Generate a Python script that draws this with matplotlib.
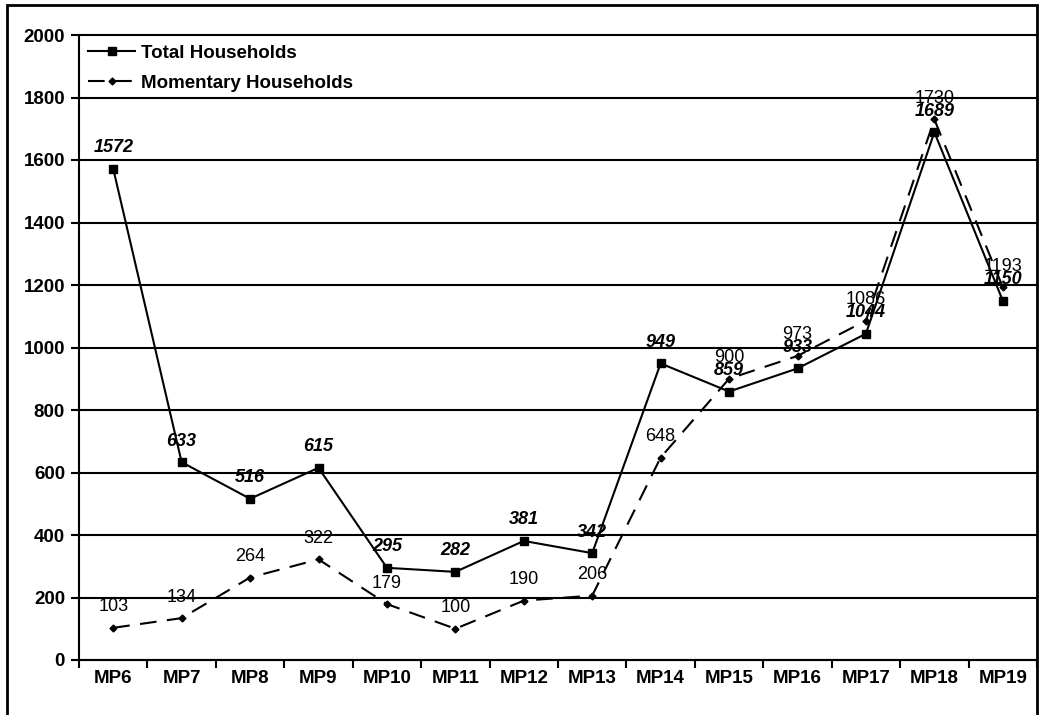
import matplotlib
matplotlib.use('Agg')
import matplotlib.pyplot as plt
from matplotlib.patches import Rectangle
import numpy as np

plt.rcParams['font.family'] = ['Liberation Sans', 'DejaVu Sans']

categories = ['MP6', 'MP7', 'MP8', 'MP9', 'MP10', 'MP11', 'MP12', 'MP13',
              'MP14', 'MP15', 'MP16', 'MP17', 'MP18', 'MP19']
total = [1572, 633, 516, 615, 295, 282, 381, 342, 949, 859, 933, 1044, 1689, 1150]
momentary = [103, 134, 264, 322, 179, 100, 190, 206, 648, 900, 973, 1086, 1730, 1193]

W, H = 1041, 715
fig = plt.figure(figsize=(W / 100, H / 100), dpi=100)
ax = fig.add_axes([79 / W, 1 - 660 / H, (1037 - 79) / W, (660 - 35) / H])

x = np.arange(len(categories))

ax.plot(x, total, color='black', linewidth=1.5, marker='s', markersize=6,
        label='Total Households', zorder=3)
ax.plot(x, momentary, color='black', linewidth=1.5, linestyle=(0, (8, 5)),
        marker='D', markersize=3.5, label='Momentary Households', zorder=3)

for a, b in zip(x, total):
    ax.annotate(str(b), (a, b), xytext=(0, 9), textcoords='offset points',
                ha='center', va='bottom', fontsize=13, style='italic',
                fontweight='bold', zorder=4)
for a, b in zip(x, momentary):
    ax.annotate(str(b), (a, b), xytext=(0, 9), textcoords='offset points',
                ha='center', va='bottom', fontsize=13, zorder=4)

ax.set_xlim(-0.5, len(categories) - 0.5)
ax.set_ylim(0, 2000)
ax.set_yticks(np.arange(0, 2001, 200))
ax.yaxis.grid(True, color='black', linewidth=1.5)
for gl in ax.yaxis.get_gridlines():
    gl.set_clip_on(False)
ax.set_axisbelow(True)

ax.set_xticks(x)
ax.set_xticklabels(categories, fontsize=13.5, fontweight='bold')
ax.set_xticks(np.arange(-0.5, len(categories), 1), minor=True)
ax.tick_params(axis='x', which='major', length=0, pad=7)
ax.tick_params(axis='x', which='minor', length=6, width=1.5, direction='out')
ax.tick_params(axis='y', length=6, width=1.5, labelsize=13.5, pad=4)
for lab in ax.get_yticklabels():
    lab.set_fontweight('bold')

for s in ['top', 'right']:
    ax.spines[s].set_visible(False)
for s in ['left', 'bottom']:
    ax.spines[s].set_linewidth(1.5)

ax.legend(loc='upper left', frameon=False, handlelength=2.5,
          borderaxespad=0.2, labelspacing=0.7, handletextpad=0.3,
          borderpad=0.3, prop={'weight': 'bold', 'size': 13.5})

fig.patches.append(Rectangle((7 / W, -0.05), (1037 - 7) / W, 1.05 - 5 / H,
                             transform=fig.transFigure, fill=False,
                             edgecolor='black', linewidth=2))

fig.savefig('out.png', dpi=100)
